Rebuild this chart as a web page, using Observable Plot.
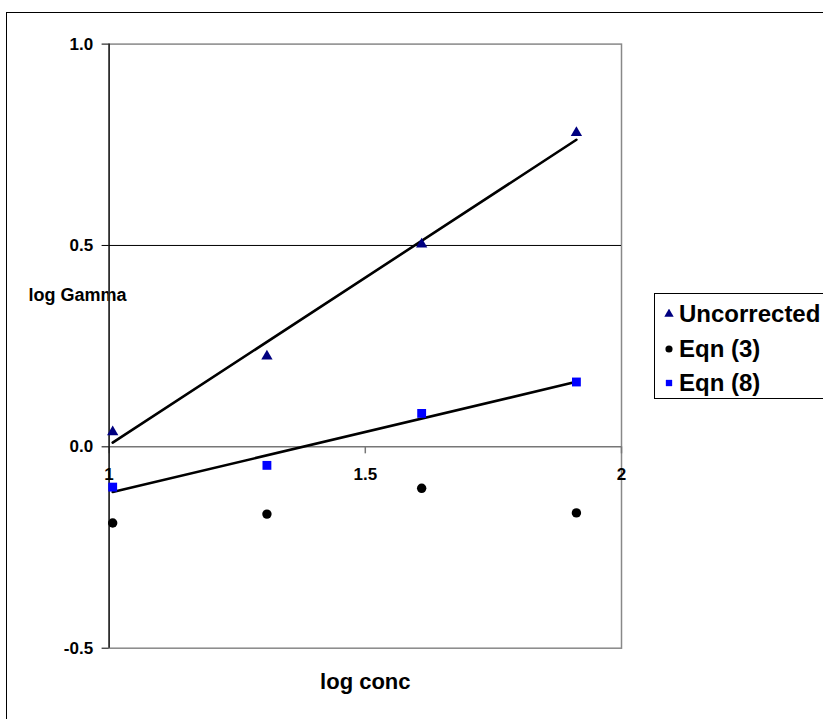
<!DOCTYPE html>
<html><head><meta charset="utf-8">
<script src="https://cdn.jsdelivr.net/npm/d3@7"></script>
<script src="https://cdn.jsdelivr.net/npm/@observablehq/plot@0.6"></script>
<style>
body{margin:0;background:#fff;font-family:"Liberation Sans",Arial,sans-serif;}
#wrap{position:relative;width:823px;height:719px;overflow:hidden;background:#fff;}
#border{position:absolute;left:6px;top:12px;width:900px;height:800px;border:1px solid #000;pointer-events:none;}
#legend{position:absolute;left:654px;top:293px;width:300px;height:104px;border:1px solid #000;background:#fff;font-weight:bold;font-size:24px;color:#000;}
.row{position:absolute;left:0;height:30px;display:flex;align-items:center;white-space:nowrap;}
.row svg{margin-left:9px;margin-right:5px;}
</style></head><body>
<div id="wrap"><div id="chart"></div><div id="border"></div><div id="legend"></div></div>
<script>
const logConc = [1.007, 1.308, 1.610, 1.912];
const uncorrected = [0.037, 0.225, 0.503, 0.780];
const eqn3 = [-0.189, -0.167, -0.103, -0.164];
const eqn8 = [-0.100, -0.046, 0.083, 0.161];
const seriesNames = ["Uncorrected", "Eqn (3)", "Eqn (8)"];
const seriesColors = ["#000080", "#000000", "#0000ff"];
const seriesSymbols = ["triangle", "circle", "square"];
const seriesRadius = [4.2, 4.7, 5];
const xTicks = [1, 1.5, 2];
const xTickLabels = ["1", "1.5", "2"];
const yTicks = [-0.5, 0, 0.5, 1.0];
const yTickLabels = ["-0.5", "0.0", "0.5", "1.0"];
const xTitle = "log conc";
const yTitle = "log Gamma";

const seriesValues = [uncorrected, eqn3, eqn8];
const rows = [];
seriesValues.forEach((vals, s) => vals.forEach((v, i) => rows.push({series: seriesNames[s], x: logConc[i], y: v})));
const bySeries = name => rows.filter(d => d.series === name);

const chart = Plot.plot({
  width: 823,
  height: 719,
  marginLeft: 108.6,
  marginRight: 202,
  marginTop: 43.6,
  marginBottom: 71.3,
  style: {fontFamily: "Liberation Sans, Arial, sans-serif", background: "transparent", color: "#000"},
  x: {domain: [1, 2], axis: null},
  y: {domain: [-0.5, 1]},
  marks: [
    Plot.text([yTitle], {frameAnchor: "top-left", dx: -80.6, dy: 244.6, textAnchor: "start", fontSize: 18, fontWeight: "bold", fill: "#000"}),
    Plot.frame({stroke: "#888", strokeWidth: 1.5}),
    Plot.ruleY([0.5], {stroke: "#000", strokeWidth: 1}),
    Plot.ruleY([0], {stroke: "#777", strokeWidth: 1.5}),
    Plot.ruleX(xTicks, {x: d => d, y1: 0, y2: 0, insetBottom: -7, stroke: "#777", strokeWidth: 1.5}),
    Plot.ruleX([1], {stroke: "#000", strokeWidth: 1.2}),
    Plot.axisY(yTicks, {tickSize: 7, tickPadding: 9, tickFormat: d => yTickLabels[yTicks.indexOf(d)], fontSize: 17, fontWeight: "bold", label: null}),
    Plot.text(xTicks, {x: d => d, y: 0, dy: 28, text: (d, i) => xTickLabels[i], fontSize: 17, fontWeight: "bold", fill: "#000"}),
    Plot.linearRegressionY(bySeries(seriesNames[0]), {x: "x", y: "y", ci: 0, stroke: "#000", strokeWidth: 2.6}),
    Plot.linearRegressionY(bySeries(seriesNames[2]), {x: "x", y: "y", ci: 0, stroke: "#000", strokeWidth: 2.6}),
    ...seriesNames.map((name, s) => Plot.dot(bySeries(name), {x: "x", y: "y", symbol: () => seriesSymbols[s], fill: seriesColors[s], stroke: "none", r: seriesRadius[s]})),
    Plot.text([xTitle], {frameAnchor: "bottom", dy: 41, fontSize: 22, fontWeight: "bold", fill: "#000"})
  ]
});
document.getElementById("chart").appendChild(chart);

// Legend
const legend = document.getElementById("legend");
const symbolMap = {triangle: d3.symbolTriangle, circle: d3.symbolCircle, square: d3.symbolSquare};
const legendSize = [38, 40, 40];
const rowTops = [5, 40, 73.5];
seriesNames.forEach((name, s) => {
  const row = document.createElement("div");
  row.className = "row";
  row.style.top = rowTops[s] + "px";
  const path = d3.symbol(symbolMap[seriesSymbols[s]], legendSize[s])();
  row.innerHTML = `<svg width="10" height="10" viewBox="-5 -5 10 10"><path d="${path}" fill="${seriesColors[s]}"></path></svg><span>${name}</span>`;
  legend.appendChild(row);
});
</script>
</body></html>
